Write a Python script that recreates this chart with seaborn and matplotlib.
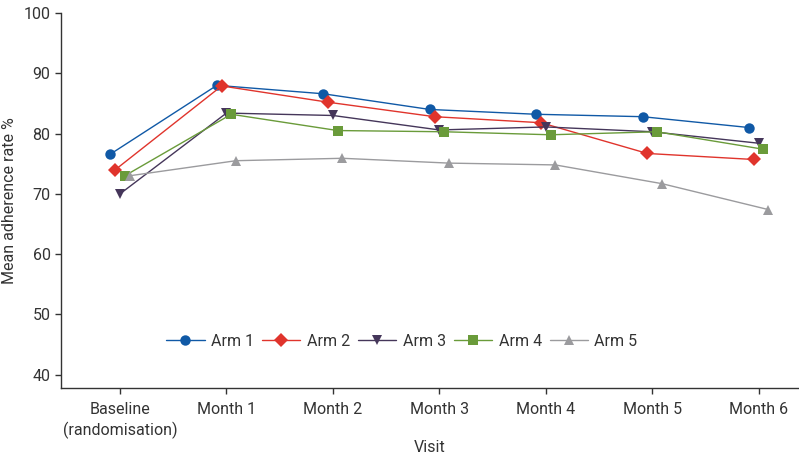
import pandas as pd
import numpy as np
import matplotlib.pyplot as plt
import seaborn as sns

# Data
visits = ['Baseline\n(randomisation)', 'Month 1', 'Month 2', 'Month 3', 'Month 4', 'Month 5', 'Month 6']
arms = ['Arm 1', 'Arm 2', 'Arm 3', 'Arm 4', 'Arm 5']
arm1 = [76.6, 88.0, 86.6, 84.0, 83.2, 82.8, 81.0]
arm2 = [74.0, 87.9, 85.2, 82.8, 81.8, 76.7, 75.7]
arm3 = [70.0, 83.4, 83.0, 80.6, 81.1, 80.3, 78.4]
arm4 = [73.0, 83.2, 80.5, 80.3, 79.8, 80.3, 77.4]
arm5 = [73.0, 75.5, 75.9, 75.1, 74.8, 71.7, 67.4]

colors = ['#1059a6', '#e0342c', '#45365a', '#6a9b3a', '#9b9b9e']
markers = ['o', 'D', 'v', 's', '^']

rows = []
for arm, vals in zip(arms, [arm1, arm2, arm3, arm4, arm5]):
    for v, val in zip(visits, vals):
        rows.append({'Visit': v, 'Arm': arm, 'Rate': val})
df = pd.DataFrame(rows)

sns.set_style('ticks')
plt.rcParams['font.family'] = ['Roboto', 'DejaVu Sans']

fig = plt.figure(figsize=(7.99, 4.59), dpi=100)
ax = fig.add_axes([0.0763, 0.1547, 0.9237, 0.817])

sns.pointplot(data=df, x='Visit', y='Rate', hue='Arm', order=visits, hue_order=arms,
              palette=colors, markers=markers, linestyles='-', dodge=0.18,
              errorbar=None, markersize=7.5, linewidth=1, markeredgewidth=0, ax=ax)

ax.set_ylim(37.8, 100)
ax.set_xlim(-0.555, 6.38)
ax.set_yticks([40, 50, 60, 70, 80, 90, 100])
ax.spines['top'].set_visible(False)
ax.spines['right'].set_visible(False)
for s in ['left', 'bottom']:
    ax.spines[s].set_color('#333333')
    ax.spines[s].set_linewidth(1)
ax.tick_params(axis='both', length=4, width=1, color='#333333', labelsize=11.5, labelcolor='#333333')
ax.tick_params(axis='x', pad=6)
for lbl in ax.get_xticklabels():
    lbl.set_linespacing(1.35)
ax.set_xlabel('Visit', fontsize=11.5, color='#333333', labelpad=1)
ax.set_ylabel('Mean adherence rate %', fontsize=11.5, color='#333333', labelpad=5)

sns.move_legend(ax, 'center', bbox_to_anchor=(0.462, 0.125), ncol=5, frameon=False,
                title=None, fontsize=11.5, handlelength=2.4, handletextpad=0.4,
                columnspacing=0.5, labelcolor='#333333')

fig.savefig('out.png', dpi=100)
